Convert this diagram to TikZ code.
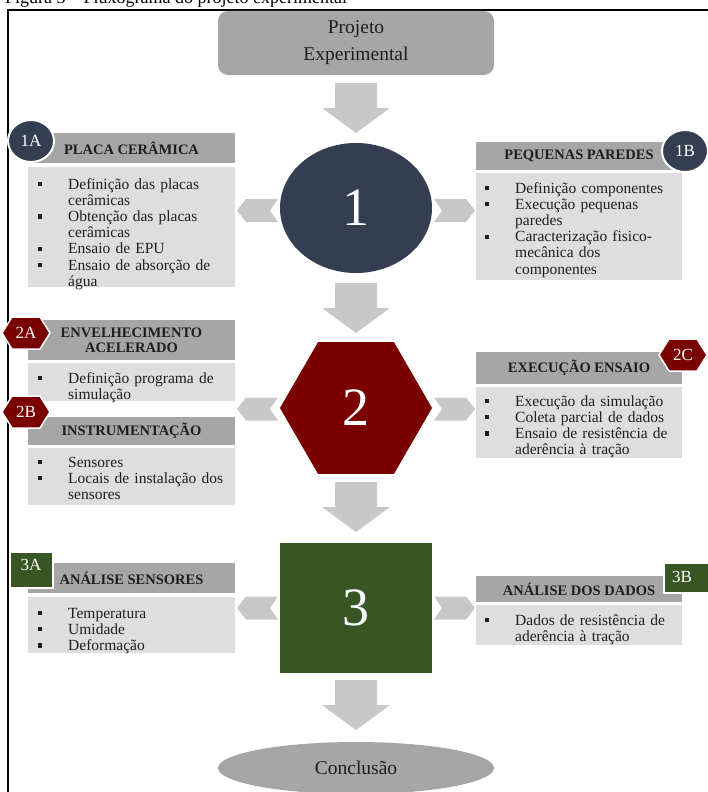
\documentclass[tikz,border=0pt]{standalone}
\usepackage{fontspec}
\setmainfont{Liberation Serif}
\usetikzlibrary{shapes.geometric}
\definecolor{hdrc}{HTML}{A6A6A6}
\definecolor{bdyc}{HTML}{DEDEDE}
\definecolor{arrc}{HTML}{C8C8C8}
\definecolor{navyc}{HTML}{333F50}
\definecolor{dredc}{HTML}{7A0000}
\definecolor{dgreenc}{HTML}{375623}
\definecolor{txtc}{HTML}{1E1E1E}
\newcommand{\bodyfont}{\fontsize{15.5}{16.2}\selectfont}
\newcommand{\hdrfont}{\fontsize{14.5}{15}\selectfont\bfseries}
\newcommand{\titlefont}{\fontsize{19.5}{27}\selectfont}
\newcommand{\bignum}{\fontsize{54}{54}\selectfont}
\newcommand{\badgefont}{\fontsize{17}{17}\selectfont}
\newcommand{\capfont}{\fontsize{18}{18}\selectfont}
\newcommand{\itm}{\par\noindent\hangindent=30pt\hangafter=1\makebox[30pt][l]{\strut\rule[2.8pt]{4.2pt}{4.2pt}}\ignorespaces}
\newcommand{\nl}{\hfil\break}
\tikzset{
  hdr/.style={fill=hdrc, inner sep=0, text=txtc, font=\hdrfont, align=center},
  bdy/.style={fill=bdyc, inner sep=0},
  btxt/.style={anchor=north west, inner sep=0, text width=188pt, font=\bodyfont, text=txtc},
  bignode/.style={inner sep=0, text=white, font=\bignum},
  badge/.style={text=white, font=\badgefont, inner sep=0},
  downarr/.pic={\fill[arrc] (-21,0) -- (21,0) -- (21,25) -- (34,25) -- (0,50) -- (-34,25) -- (-21,25) -- cycle;},
  leftchev/.pic={\fill[arrc] (0,0) -- (9,-11.5) -- (41,-11.5) -- (33,0) -- (41,11.5) -- (9,11.5) -- cycle;},
  rightchev/.pic={\fill[arrc] (0,0) -- (-9,-11.5) -- (-41,-11.5) -- (-33,0) -- (-41,11.5) -- (-9,11.5) -- cycle;},
  hexbadge/.pic={\filldraw[fill=dredc, draw=white, line width=1.5pt] (-24,0) -- (-14,-16) -- (14,-16) -- (24,0) -- (14,16) -- (-14,16) -- cycle;}
}
\begin{document}
\begin{tikzpicture}[x=1pt,y=-1pt]
\useasboundingbox (0,0) rectangle (708,792);
\fill[white] (0,0) rectangle (708,792);
% frame and caption
\draw[line width=1.3pt, black] (8,10) rectangle (740,820);
\node[anchor=base west, inner sep=0, font=\capfont] (cap) at (5,4) {Figura 3 – Fluxograma do projeto experimental};

% title
\node[fill=hdrc, rounded corners=10pt, minimum width=276pt, minimum height=64pt, align=center, font=\titlefont, text=txtc, inner sep=0] (title) at (356,43) {Projeto\\Experimental};

% down arrows
\pic at (356,83) {downarr};
\pic at (356,283) {downarr};
\pic at (356,482) {downarr};
\pic at (356,680) {downarr};

% central shapes
\node[ellipse, fill=navyc, minimum width=152pt, minimum height=130pt, bignode] (n1) at (356,208) {1};
\node[regular polygon, regular polygon sides=6, minimum size=152pt, fill=dredc, bignode] (n2) at (356,408) {2};
\node[rectangle, fill=dgreenc, minimum width=152pt, minimum height=130pt, bignode] (n3) at (356,608) {3};

% side chevrons
\pic at (237,210.5) {leftchev};
\pic at (475,210.5) {rightchev};
\pic at (237,409) {leftchev};
\pic at (475,409) {rightchev};
\pic at (237,608) {leftchev};
\pic at (475,608) {rightchev};

% 1A
\node[hdr, minimum width=207pt, minimum height=30pt] (h1a) at (131.5,148) {PLACA CERÂMICA};
\node[bdy, minimum width=207pt, minimum height=120pt] (r1a) at (131.5,227) {};
\node[btxt] (t1a) at (38,172.66) {\itm Definição das placas\nl cerâmicas
\itm Obtenção das placas\nl cerâmicas
\itm Ensaio de EPU
\itm Ensaio de absorção de\linebreak água\par};
\node[ellipse, fill=navyc, draw=white, line width=2pt, minimum width=46pt, minimum height=42pt, badge] (b1a) at (31,141) {1A};

% 1B
\node[hdr, minimum width=206pt, minimum height=28pt] (h1b) at (579,156) {PEQUENAS PAREDES};
\node[bdy, minimum width=206pt, minimum height=107pt] (r1b) at (579,226.5) {};
\node[btxt] (t1b) at (485,176.66) {\itm Definição componentes
\itm Execução pequenas\nl paredes
\itm Caracterização fisico-\linebreak mecânica dos\nl componentes\par};
\node[ellipse, fill=navyc, draw=white, line width=2pt, minimum width=46pt, minimum height=42pt, badge] (b1b) at (685,151) {1B};

% 2A
\node[hdr, minimum width=207pt, minimum height=40pt] (h2a) at (131.5,340) {ENVELHECIMENTO\\ACELERADO};
\node[bdy, minimum width=207pt, minimum height=38pt] (r2a) at (131.5,382) {};
\node[btxt] (t2a) at (38,366.66) {\itm Definição programa de\linebreak simulação\par};
\pic at (26,333) {hexbadge};
\node[badge] (b2a) at (26,333) {2A};

% 2B
\node[hdr, minimum width=207pt, minimum height=28pt] (h2b) at (131.5,431) {INSTRUMENTAÇÃO};
\node[bdy, minimum width=207pt, minimum height=57pt] (r2b) at (131.5,476.5) {};
\node[btxt] (t2b) at (38,450.66) {\itm Sensores
\itm Locais de instalação dos\linebreak sensores\par};
\pic at (26,412) {hexbadge};
\node[badge] (b2b) at (26,412) {2B};

% 2C
\node[hdr, minimum width=206pt, minimum height=32pt] (h2c) at (579,368) {EXECUÇÃO ENSAIO};
\node[bdy, minimum width=206pt, minimum height=71pt] (r2c) at (579,422.5) {};
\node[btxt] (t2c) at (485,389.66) {\itm Execução da simulação
\itm Coleta parcial de dados
\itm Ensaio de resistência de\linebreak aderência à tração\par};
\pic at (683,355) {hexbadge};
\node[badge] (b2c) at (683,355) {2C};

% 3A
\node[hdr, minimum width=207pt, minimum height=30pt] (h3a) at (131.5,578) {ANÁLISE SENSORES};
\node[bdy, minimum width=207pt, minimum height=56pt] (r3a) at (131.5,625) {};
\node[btxt] (t3a) at (38,601.66) {\itm Temperatura
\itm Umidade
\itm Deformação\par};
\node[fill=dgreenc, draw=white, line width=2pt, minimum width=43pt, minimum height=36pt, inner sep=0] (s3a) at (31.5,570) {};
\node[badge] (b3a) at (31,565) {3A};

% 3B
\node[hdr, minimum width=206pt, minimum height=26pt] (h3b) at (579,589) {ANÁLISE DOS DADOS};
\node[bdy, minimum width=206pt, minimum height=40pt] (r3b) at (579,625) {};
\node[btxt] (t3b) at (485,608.66) {\itm Dados de resistência de\linebreak aderência à tração\par};
\node[fill=dgreenc, draw=white, line width=2pt, minimum width=47pt, minimum height=30pt, inner sep=0] (s3b) at (687,577.5) {};
\node[badge] (b3b) at (682,577) {3B};

% conclusion
\node[ellipse, fill=hdrc, minimum width=276pt, minimum height=52pt, font=\titlefont, text=txtc, inner sep=0] (concl) at (356,768) {Conclusão};
\end{tikzpicture}
\end{document}
